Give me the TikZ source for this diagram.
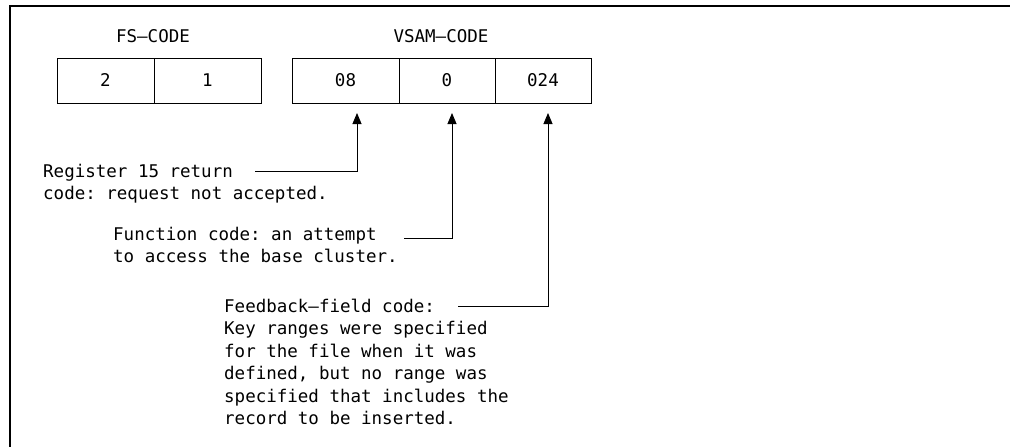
\documentclass[tikz,border=0pt]{standalone}
\usepackage{fontspec}
\setmainfont{DejaVu Sans Mono}
\frenchspacing
\usetikzlibrary{arrows.meta}
\tikzset{
  cell/.style={draw, line width=0.9pt, minimum height=45pt, inner sep=0pt, outer sep=0pt},
  fieldlabel/.style={inner sep=0pt},
  note/.style={align=left, anchor=north west, inner sep=0pt},
  lead/.style={line width=0.9pt, -{Triangle[length=11pt,width=9pt]}},
  frameline/.style={line width=2pt}
}
\begin{document}
\begin{tikzpicture}[x=1pt,y=-1pt,
  every node/.style={font=\fontsize{17.5}{22.4}\selectfont}]
\useasboundingbox (0,0) rectangle (1010,447);

% open frame: top and left edges only
\draw[frameline] (1010,6) -- (10,6) -- (10,447);

% field headings
\node[fieldlabel] (fs) at (153,36) {FS—CODE};
\node[fieldlabel] (vsam) at (441,36) {VSAM—CODE};

% FS-CODE cells
\node[cell, minimum width=97pt]  (fs2) at (105.5,80.5) {2};
\node[cell, minimum width=107pt] (fs1) at (207.5,80.5) {1};

% VSAM-CODE cells
\node[cell, minimum width=107pt] (c08)  at (345.5,80.5) {08};
\node[cell, minimum width=96pt]  (c0)   at (447,80.5)   {0};
\node[cell, minimum width=96pt]  (c024) at (543,80.5)   {024};

% explanations
\node[note] (reg) at (43,164) {Register 15 return\\code: request not accepted.};
\node[note] (fun) at (113,227) {Function code: an attempt\\to access the base cluster.};
\node[note] (fbk) at (224,299) {Feedback—field code:\\Key ranges were specified\\for the file when it was\\defined, but no range was\\specified that includes the\\record to be inserted.};

% leader start points and arrow tips
\coordinate (r0) at (255,171);
\coordinate (f0) at (404,238);
\coordinate (k0) at (458,306);
\coordinate (t08) at (357,113);
\coordinate (t0) at (452,113);
\coordinate (t024) at (548,113);

\draw[lead] (r0) -| (t08);
\draw[lead] (f0) -| (t0);
\draw[lead] (k0) -| (t024);
\end{tikzpicture}
\end{document}
